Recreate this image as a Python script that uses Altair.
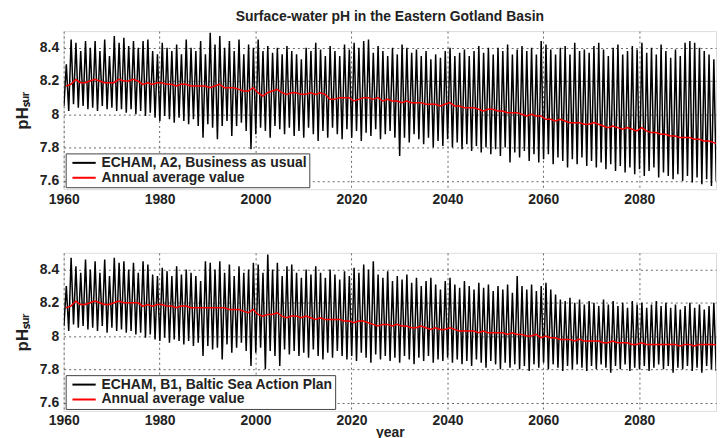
import altair as alt
import pandas as pd

years = list(range(1960, 2099))

a2_max = [8.30, 8.45, 8.43, 8.38, 8.44, 8.40, 8.44, 8.38, 8.45, 8.35,
          8.47, 8.43, 8.46, 8.41, 8.44, 8.40, 8.44, 8.45, 8.38, 8.36,
          8.43, 8.40, 8.38, 8.42, 8.36, 8.45, 8.40, 8.38, 8.44, 8.36,
          8.49, 8.42, 8.47, 8.40, 8.44, 8.38, 8.45, 8.36, 8.42, 8.40,
          8.45, 8.38, 8.41, 8.37, 8.40, 8.36, 8.41, 8.38, 8.36, 8.33,
          8.40, 8.38, 8.43, 8.39, 8.35, 8.41, 8.38, 8.35, 8.42, 8.39,
          8.43, 8.40, 8.44, 8.45, 8.37, 8.41, 8.38, 8.35, 8.40, 8.36,
          8.42, 8.40, 8.37, 8.39, 8.35, 8.38, 8.33, 8.36, 8.34, 8.38,
          8.40, 8.35, 8.37, 8.39, 8.35, 8.38, 8.41, 8.37, 8.40, 8.36,
          8.40, 8.38, 8.42, 8.36, 8.39, 8.41, 8.38, 8.40, 8.36, 8.44,
          8.42, 8.39, 8.36, 8.40, 8.41, 8.36, 8.43, 8.38, 8.39, 8.37,
          8.41, 8.43, 8.39, 8.35, 8.40, 8.42, 8.36, 8.38, 8.41, 8.39,
          8.43, 8.37, 8.40, 8.36, 8.42, 8.38, 8.34, 8.39, 8.35, 8.43,
          8.44, 8.43, 8.40, 8.38, 8.36, 8.33, 8.30, 8.28, 8.22]

a2_min = [8.05, 8.02, 8.06, 8.04, 8.05, 8.03, 8.04, 8.02, 8.05, 8.03,
          8.04, 8.02, 8.03, 8.01, 8.03, 8.00, 8.02, 7.99, 8.01, 7.98,
          7.96, 7.99, 7.97, 7.95, 7.98, 7.96, 7.94, 7.97, 7.93, 7.86,
          7.94, 7.92, 7.85, 7.93, 7.96, 7.87, 7.93, 7.95, 7.90, 7.79,
          7.88, 7.92, 7.90, 7.86, 7.93, 7.91, 7.88, 7.92, 7.87, 7.90,
          7.86, 7.92, 7.88, 7.84, 7.90, 7.86, 7.92, 7.88, 7.85, 7.91,
          7.86, 7.90, 7.84, 7.89, 7.87, 7.91, 7.85, 7.88, 7.90, 7.86,
          7.75, 7.86, 7.83, 7.88, 7.85, 7.82, 7.86, 7.80, 7.84, 7.81,
          7.85, 7.80, 7.83, 7.79, 7.82, 7.78, 7.81, 7.77, 7.80, 7.76,
          7.79, 7.75, 7.80, 7.71, 7.77, 7.74, 7.78, 7.72, 7.76, 7.71,
          7.73, 7.76, 7.70, 7.74, 7.72, 7.68, 7.73, 7.70, 7.74, 7.69,
          7.72, 7.68, 7.71, 7.67, 7.70, 7.66, 7.69, 7.65, 7.68, 7.64,
          7.67, 7.63, 7.66, 7.68, 7.62, 7.65, 7.63, 7.61, 7.64, 7.60,
          7.63, 7.59, 7.62, 7.58, 7.61, 7.57, 7.60, 7.58, 7.59]

a2_mean = [8.17, 8.18, 8.21, 8.19, 8.19, 8.20, 8.21, 8.20, 8.19, 8.19,
           8.19, 8.21, 8.20, 8.20, 8.21, 8.20, 8.18, 8.19, 8.18, 8.19,
           8.19, 8.18, 8.18, 8.17, 8.18, 8.18, 8.17, 8.17, 8.17, 8.17,
           8.16, 8.17, 8.18, 8.16, 8.16, 8.16, 8.15, 8.14, 8.14, 8.16,
           8.13, 8.11, 8.13, 8.14, 8.15, 8.13, 8.12, 8.13, 8.13, 8.12,
           8.12, 8.13, 8.12, 8.13, 8.12, 8.09, 8.09, 8.10, 8.10, 8.10,
           8.08, 8.09, 8.10, 8.10, 8.09, 8.10, 8.08, 8.09, 8.08, 8.08,
           8.07, 8.08, 8.07, 8.07, 8.07, 8.06, 8.06, 8.06, 8.05, 8.06,
           8.07, 8.05, 8.05, 8.04, 8.04, 8.04, 8.03, 8.02, 8.03, 8.03,
           8.02, 8.02, 8.01, 8.01, 8.01, 8.00, 7.99, 8.00, 7.99, 7.99,
           7.97, 7.97, 7.96, 7.97, 7.96, 7.95, 7.95, 7.95, 7.94, 7.94,
           7.95, 7.94, 7.93, 7.92, 7.93, 7.92, 7.91, 7.92, 7.91, 7.90,
           7.92, 7.90, 7.89, 7.89, 7.88, 7.88, 7.87, 7.87, 7.86, 7.86,
           7.86, 7.85, 7.85, 7.84, 7.84, 7.83, 7.82, 7.81, 7.80]

b1_max = [8.30, 8.47, 8.42, 8.38, 8.46, 8.40, 8.45, 8.38, 8.46, 8.36,
          8.47, 8.44, 8.45, 8.40, 8.44, 8.38, 8.45, 8.43, 8.37, 8.36,
          8.41, 8.39, 8.36, 8.42, 8.37, 8.40, 8.38, 8.36, 8.33, 8.45,
          8.44, 8.40, 8.45, 8.38, 8.43, 8.36, 8.42, 8.38, 8.40, 8.44,
          8.43, 8.38, 8.49, 8.40, 8.44, 8.36, 8.42, 8.43, 8.38, 8.35,
          8.40, 8.37, 8.42, 8.38, 8.35, 8.40, 8.37, 8.34, 8.39, 8.36,
          8.41, 8.38, 8.43, 8.40, 8.45, 8.37, 8.35, 8.39, 8.33, 8.36,
          8.34, 8.37, 8.32, 8.35, 8.30, 8.33, 8.35, 8.31, 8.28, 8.33,
          8.35, 8.31, 8.29, 8.33, 8.30, 8.28, 8.32, 8.29, 8.31, 8.27,
          8.30, 8.28, 8.31, 8.26, 8.36, 8.30, 8.28, 8.31, 8.27, 8.30,
          8.32, 8.28, 8.25, 8.22, 8.21, 8.23, 8.20, 8.22, 8.19, 8.21,
          8.20, 8.18, 8.22, 8.19, 8.21, 8.18, 8.20, 8.17, 8.21, 8.19,
          8.20, 8.17, 8.19, 8.21, 8.18, 8.20, 8.17, 8.19, 8.16, 8.18,
          8.20, 8.17, 8.19, 8.16, 8.18, 8.20, 8.17, 8.19, 8.18]

b1_min = [8.06, 8.03, 8.07, 8.05, 8.06, 8.04, 8.05, 8.03, 8.06, 8.02,
          8.05, 8.03, 8.04, 8.02, 8.03, 8.01, 8.02, 7.99, 8.01, 7.98,
          7.97, 7.99, 7.96, 7.98, 7.97, 7.95, 7.97, 7.94, 7.96, 7.88,
          7.94, 7.92, 7.93, 7.86, 7.95, 7.90, 7.93, 7.96, 7.91, 7.82,
          7.90, 7.93, 7.80, 7.91, 7.88, 7.82, 7.92, 7.89, 7.91, 7.88,
          7.90, 7.87, 7.92, 7.88, 7.86, 7.90, 7.87, 7.91, 7.88, 7.86,
          7.88, 7.85, 7.90, 7.87, 7.84, 7.89, 7.86, 7.88, 7.85, 7.87,
          7.84, 7.88, 7.86, 7.83, 7.87, 7.85, 7.88, 7.84, 7.86, 7.85,
          7.87, 7.84, 7.86, 7.83, 7.85, 7.82, 7.86, 7.84, 7.81, 7.85,
          7.83, 7.80, 7.84, 7.81, 7.83, 7.80, 7.82, 7.79, 7.83, 7.81,
          7.84, 7.80, 7.83, 7.81, 7.79, 7.82, 7.80, 7.83, 7.81, 7.79,
          7.82, 7.80, 7.83, 7.81, 7.78, 7.82, 7.80, 7.83, 7.79, 7.81,
          7.80, 7.82, 7.79, 7.81, 7.83, 7.80, 7.82, 7.78, 7.81, 7.80,
          7.82, 7.79, 7.81, 7.78, 7.82, 7.80, 7.79, 7.81, 7.80]

b1_mean = [8.17, 8.18, 8.21, 8.19, 8.19, 8.20, 8.21, 8.20, 8.19, 8.19,
           8.20, 8.21, 8.20, 8.20, 8.20, 8.20, 8.18, 8.19, 8.18, 8.19,
           8.19, 8.18, 8.18, 8.17, 8.18, 8.18, 8.17, 8.17, 8.17, 8.17,
           8.17, 8.17, 8.17, 8.17, 8.16, 8.16, 8.16, 8.15, 8.14, 8.16,
           8.13, 8.12, 8.13, 8.13, 8.14, 8.12, 8.11, 8.12, 8.12, 8.11,
           8.12, 8.11, 8.10, 8.11, 8.10, 8.10, 8.10, 8.10, 8.09, 8.09,
           8.08, 8.09, 8.09, 8.08, 8.07, 8.06, 8.07, 8.07, 8.06, 8.07,
           8.06, 8.06, 8.05, 8.05, 8.06, 8.05, 8.04, 8.05, 8.04, 8.04,
           8.05, 8.04, 8.03, 8.03, 8.03, 8.03, 8.02, 8.03, 8.02, 8.02,
           8.02, 8.02, 8.01, 8.02, 8.01, 8.01, 8.00, 8.00, 8.01, 7.99,
           8.00, 7.99, 7.99, 7.98, 7.98, 7.98, 7.97, 7.98, 7.97, 7.97,
           7.97, 7.97, 7.96, 7.96, 7.97, 7.96, 7.96, 7.96, 7.95, 7.95,
           7.96, 7.95, 7.95, 7.95, 7.95, 7.95, 7.95, 7.95, 7.94, 7.95,
           7.95, 7.94, 7.95, 7.95, 7.95, 7.95, 7.94, 7.94, 7.93]

x_ticks = [1960, 1980, 2000, 2020, 2040, 2060, 2080]
y_ticks = [7.6, 7.8, 8.0, 8.2, 8.4]

TITLE = "Surface-water pH in the Eastern Gotland Basin"
AVG = "Annual average value"
FONT = "Liberation Sans"
W, H = 656, 159


def build_frames(mx, mn, mean, name):
    rows = []
    for y, lo, hi in zip(years, mn, mx):
        rows.append({"t": y + 0.05, "ph": lo, "series": name})
        rows.append({"t": y + 0.55, "ph": hi, "series": name})
    black = pd.DataFrame(rows)
    red = pd.DataFrame({"t": [y + 0.5 for y in years], "ph": mean, "series": AVG})
    return black, red


def panel(mx, mn, mean, name, show_title, xtitle):
    black, red = build_frames(mx, mn, mean, name)
    xaxis = alt.Axis(values=x_ticks, format="d", grid=True, gridDash=[2, 3],
                     gridColor="#666", gridWidth=1, ticks=False, domain=False,
                     labelFont=FONT, labelFontSize=14, labelFontWeight="bold",
                     labelColor="#222", labelPadding=3, labelFlush=False,
                     titleFont=FONT, titleFontSize=14, titleFontWeight="bold",
                     titleColor="#222", titlePadding=-2)
    yaxis = alt.Axis(values=y_ticks, format="~g", grid=True, gridDash=[2, 3],
                     gridColor="#666", gridWidth=1, ticks=False, domain=False,
                     labelFont=FONT, labelFontSize=14, labelFontWeight="bold",
                     labelColor="#222", labelPadding=5,
                     titleFont=FONT, titleFontSize=17, titleFontWeight="bold",
                     titleColor="#222", titlePadding=8)
    color = alt.Color("series:N",
                      scale=alt.Scale(domain=[name, AVG], range=["black", "red"]),
                      legend=alt.Legend(orient="bottom-left", title=None,
                                        symbolType="M-1.8,0L1.8,0",
                                        symbolStrokeWidth=2,
                                        symbolSize=169, symbolOffset=9,
                                        labelOffset=10,
                                        labelFont=FONT,
                                        labelFontSize=14, labelFontWeight="bold",
                                        labelColor="#222", labelLimit=500,
                                        fillColor="white", strokeColor="#444",
                                        padding=2, offset=2, rowPadding=0))
    x = alt.X("t:Q", scale=alt.Scale(domain=[1960, 2096], nice=False, zero=False),
              axis=xaxis, title=xtitle if xtitle else None)
    y = alt.Y("ph:Q", scale=alt.Scale(domain=[7.55, 8.5], nice=False, zero=False),
              axis=yaxis, title="pHₛᵤᵣ")
    l1 = alt.Chart(black).mark_line(strokeWidth=1.5, clip=True).encode(x=x, y=y, color=color)
    l2 = alt.Chart(red).mark_line(strokeWidth=1.5, clip=True).encode(x=x, y=y, color=color)
    props = dict(width=W, height=H)
    if show_title:
        props["title"] = alt.TitleParams(TITLE, font=FONT, fontSize=14,
                                         fontWeight="bold", color="#222",
                                         anchor="middle", offset=7)
    return alt.layer(l1, l2).properties(**props)


top = panel(a2_max, a2_min, a2_mean, "ECHAM, A2, Business as usual", True, None)
bottom = panel(b1_max, b1_min, b1_mean, "ECHAM, B1, Baltic Sea Action Plan", False, "year")

chart = alt.vconcat(top, bottom, spacing=45).resolve_scale(color="independent").properties(
    padding={"left": 5, "top": 0, "right": 0, "bottom": 0}
).configure_view(stroke="#999", strokeWidth=2).configure(background="white")

chart.save("out.html", embed_options={"renderer": "svg", "actions": False})
